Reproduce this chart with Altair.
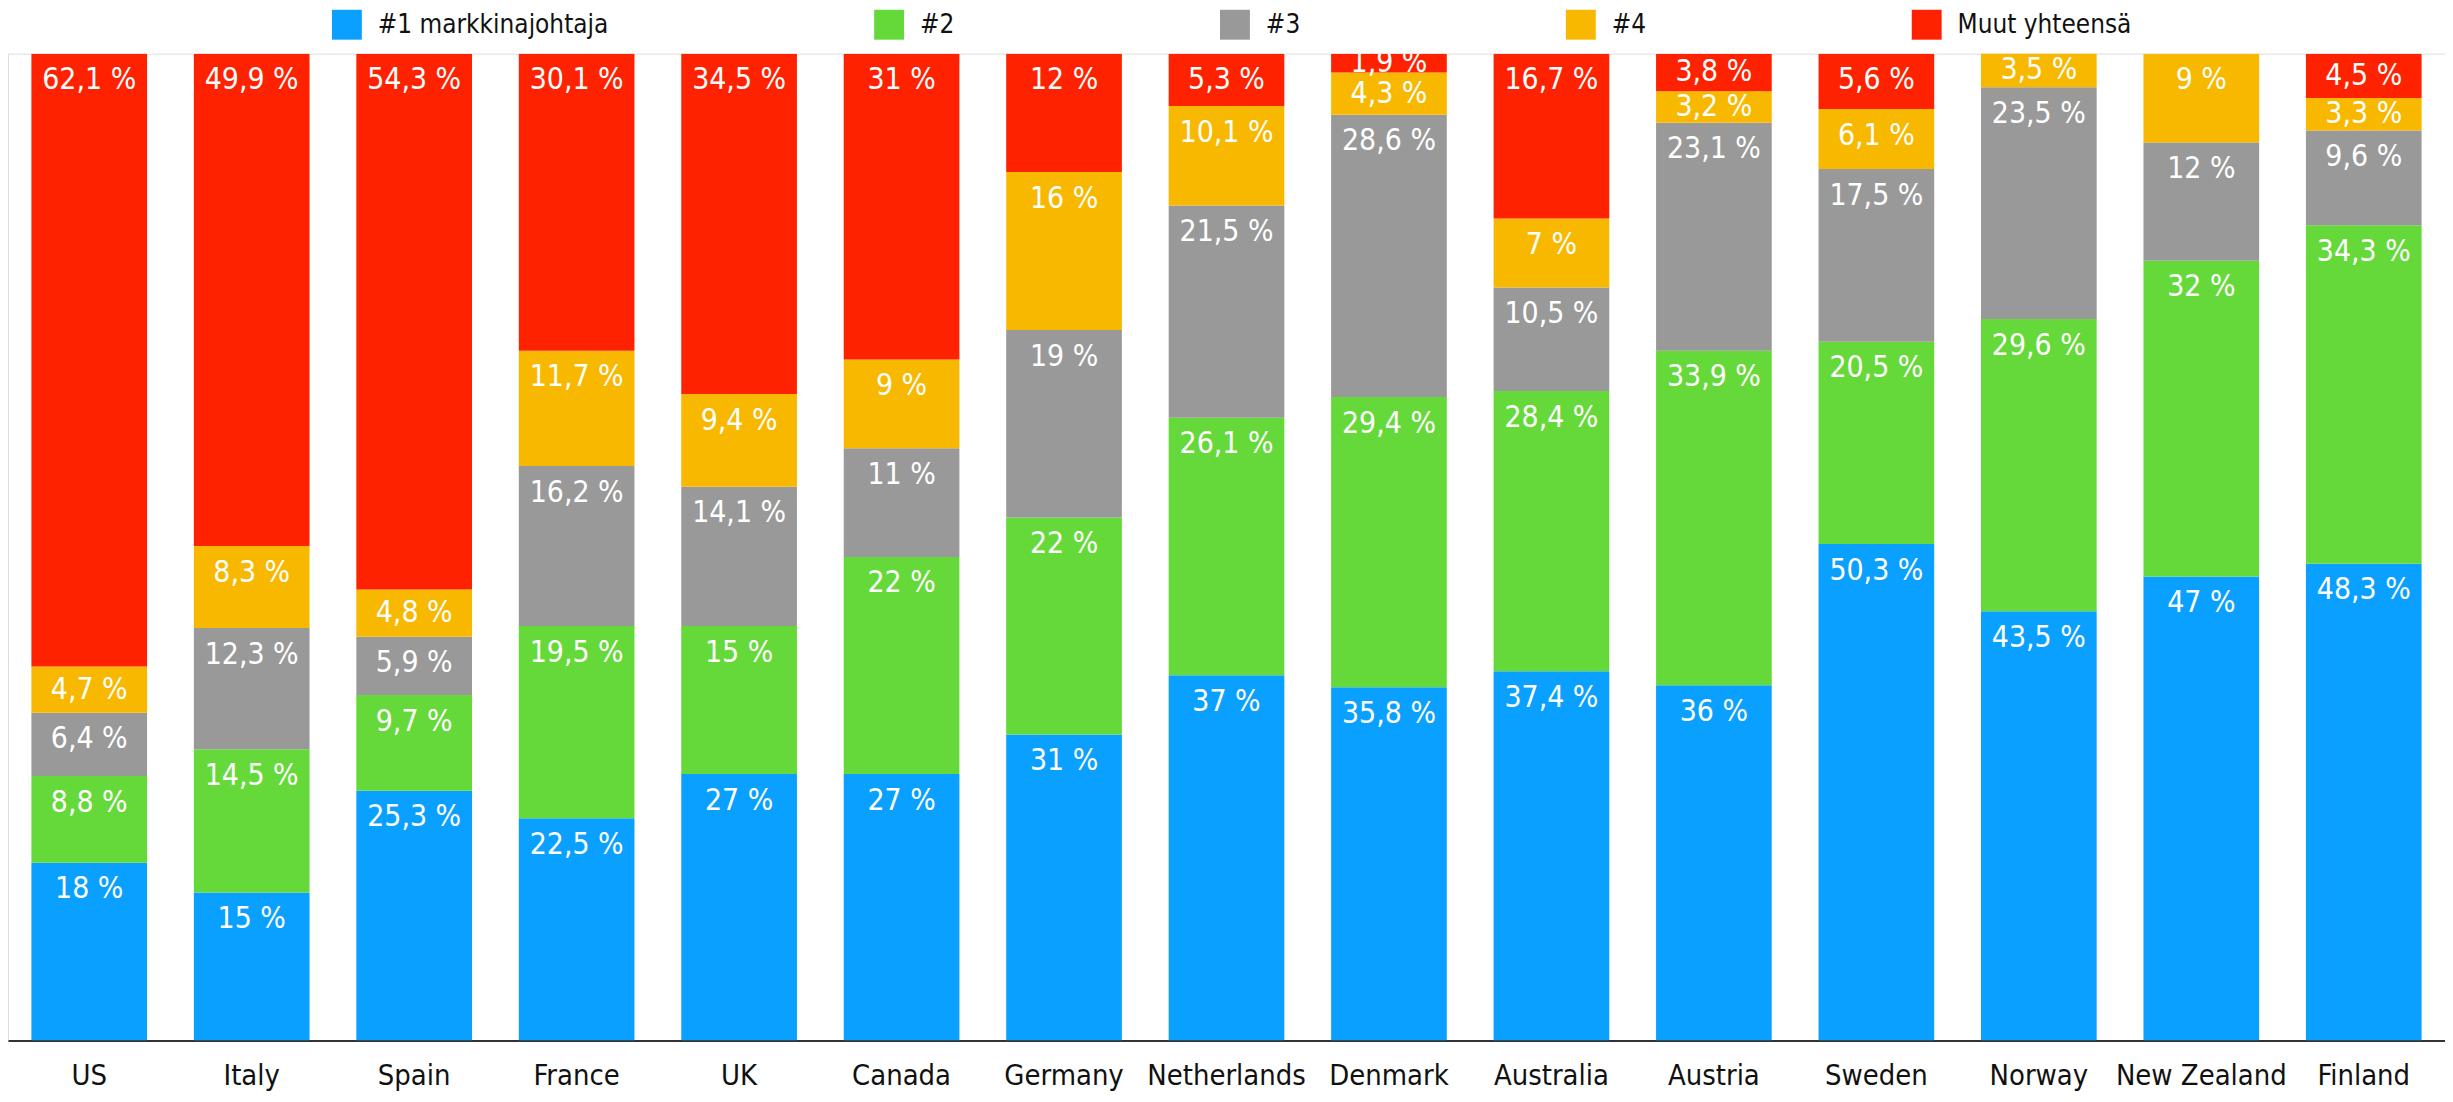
import altair as alt
import pandas as pd

countries = ["US", "Italy", "Spain", "France", "UK", "Canada", "Germany", "Netherlands",
             "Denmark", "Australia", "Austria", "Sweden", "Norway", "New Zealand", "Finland"]
categories = ["#1 markkinajohtaja", "#2", "#3", "#4", "Muut yhteensä"]
colors = ["#0AA0FF", "#66D93A", "#999999", "#F8B800", "#FF2200"]

first = [18, 15, 25.3, 22.5, 27, 27, 31, 37, 35.8, 37.4, 36, 50.3, 43.5, 47, 48.3]
second = [8.8, 14.5, 9.7, 19.5, 15, 22, 22, 26.1, 29.4, 28.4, 33.9, 20.5, 29.6, 32, 34.3]
third = [6.4, 12.3, 5.9, 16.2, 14.1, 11, 19, 21.5, 28.6, 10.5, 23.1, 17.5, 23.5, 12, 9.6]
fourth = [4.7, 8.3, 4.8, 11.7, 9.4, 9, 16, 10.1, 4.3, 7, 3.2, 6.1, 3.5, 9, 3.3]
others = [62.1, 49.9, 54.3, 30.1, 34.5, 31, 12, 5.3, 1.9, 16.7, 3.8, 5.6, 0, 0, 4.5]

series = [first, second, third, fourth, others]

rows = []
for ci, (cat, vals) in enumerate(zip(categories, series)):
    for country, v in zip(countries, vals):
        if v > 0:
            lab = f"{v:g}".replace(".", ",") + " %"
            rows.append({"country": country, "category": cat, "order": ci,
                         "value": v, "label": lab})
df = pd.DataFrame(rows)

FONT = "DejaVu Sans Condensed, Roboto, Liberation Sans, sans-serif"

base = alt.Chart(df).transform_stack(
    stack="value", as_=["y0", "y1"], groupby=["country"],
    sort=[alt.SortField("order", order="ascending")]
).transform_calculate(
    center="(datum.y0 + datum.y1) / 2",
).transform_calculate(
    labpos="max(datum.y1 - 2.7, datum.center)"
)

xenc = alt.X("country:N", sort=countries,
             scale=alt.Scale(paddingInner=0.288, paddingOuter=0.144),
             axis=alt.Axis(title=None, labelAngle=0, ticks=False, domainColor="#333333",
                           domainWidth=2, labelFontSize=29, labelColor="#111111",
                           labelFont=FONT, labelPadding=21, labelLimit=400, grid=False))
yscale = alt.Scale(domain=[0, 100], nice=False, zero=True)

bars = base.mark_bar(clip=True, strokeWidth=0).encode(
    x=xenc,
    y=alt.Y("y0:Q", scale=yscale, axis=None),
    y2="y1:Q",
    color=alt.Color("category:N", sort=categories,
                    scale=alt.Scale(domain=categories, range=colors),
                    legend=alt.Legend(title=None, orient="none", direction="horizontal",
                                      legendX=325, legendY=-44, columns=5,
                                      columnPadding=266, symbolType="square",
                                      symbolSize=900, symbolStrokeWidth=0,
                                      labelFontSize=26, labelFont=FONT, labelColor="#111111",
                                      labelOffset=16, labelLimit=600)),
)

texts = base.mark_text(clip=True, color="white", fontSize=30, font=FONT,
                       baseline="middle", align="center").encode(
    x=alt.X("country:N", sort=countries),
    y=alt.Y("labpos:Q", scale=yscale, axis=None),
    text="label:N",
)

chart = alt.layer(bars, texts).properties(
    width=2445, height=990, padding=0
).configure_view(stroke=None).configure(background="white")

chart.save("out.html", embed_options={"renderer": "svg", "actions": False})
